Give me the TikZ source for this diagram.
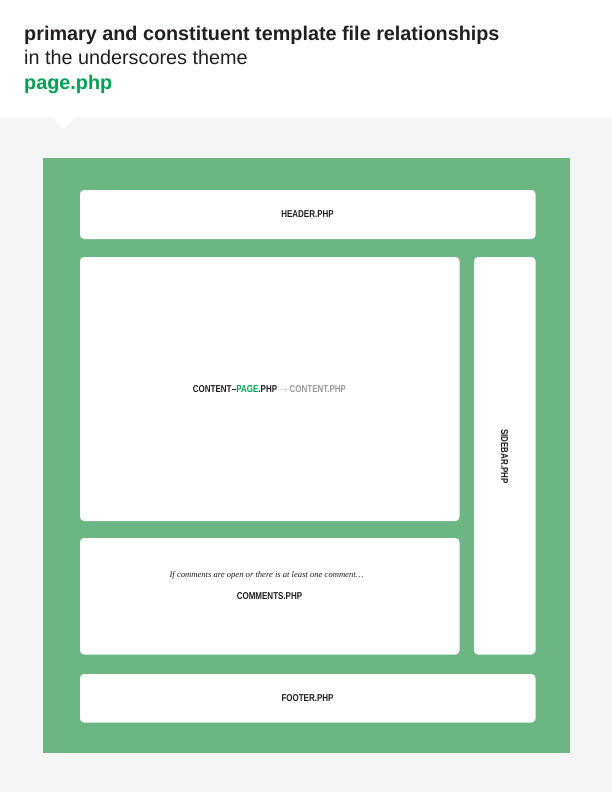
\documentclass[tikz,border=0pt]{standalone}
\usepackage{fontspec}
\setmainfont{Liberation Sans}
\newfontfamily\serifit{Liberation Serif}
\usepackage{graphicx}
\definecolor{bggray}{HTML}{F5F5F5}
\definecolor{panelgreen}{HTML}{6BB682}
\definecolor{txtgreen}{HTML}{00A152}
\definecolor{txtdark}{HTML}{231F20}
\definecolor{txtgray}{HTML}{9A9A9A}
\newcommand{\lbl}[1]{\scalebox{0.8}[1]{\fontsize{10}{11}\selectfont\bfseries #1}}
\tikzset{
  filebox/.style={fill=white, draw=none, rounded corners=4pt},
  lbltext/.style={text=txtdark, inner sep=0pt},
}
\begin{document}
\begin{tikzpicture}[x=1pt,y=-1pt]
\useasboundingbox (0,0) rectangle (612,792);
\fill[white] (0,0) rectangle (612,792);
\fill[bggray] (0,118) rectangle (612,792);
\fill[white] (52.5,118) -- (63.5,129) -- (74.5,118) -- cycle;
% titles
\node[anchor=base west, inner sep=0pt, text=txtdark] (t1) at (24,41) {\fontsize{19.8}{22}\selectfont\bfseries primary and constituent template file relationships};
\node[anchor=base west, inner sep=0pt, text=txtdark] (t2) at (24,65) {\fontsize{19.8}{22}\selectfont in the underscores theme};
\node[anchor=base west, inner sep=0pt, text=txtgreen] (t3) at (24,89) {\fontsize{19.8}{22}\selectfont\bfseries page.php};
% green panel
\fill[panelgreen] (42.5,157.5) rectangle (569.5,753);
% boxes
\path[filebox] (80,190) rectangle (535.5,239);
\path[filebox] (80,257) rectangle (459.5,521);
\path[filebox] (80,538) rectangle (459.5,654.5);
\path[filebox] (474,257) rectangle (535.5,654.5);
\path[filebox] (80,674) rectangle (535.5,722.5);
% labels
\node[lbltext] (header) at (307.5,214.5) {\lbl{HEADER.PHP}};
\node[lbltext] (content) at (269.5,389) {\lbl{CONTENT\rule[2.6pt]{6pt}{1.1pt}\textcolor{txtgreen}{PAGE}.PHP \textcolor{txtgray}{$\rightarrow$ CONTENT.PHP}}};
\node[lbltext] (cond) at (266.5,575.5) {\serifit\itshape\fontsize{8.6}{10}\selectfont If comments are open or there is at least one comment\ldots};
\node[lbltext] (comments) at (269.5,596.5) {\lbl{COMMENTS.PHP}};
\node[lbltext, rotate=-90] (sidebar) at (504.5,456.5) {\lbl{SIDEBAR.PHP}};
\node[lbltext] (footer) at (307.5,698.5) {\lbl{FOOTER.PHP}};
\end{tikzpicture}
\end{document}
